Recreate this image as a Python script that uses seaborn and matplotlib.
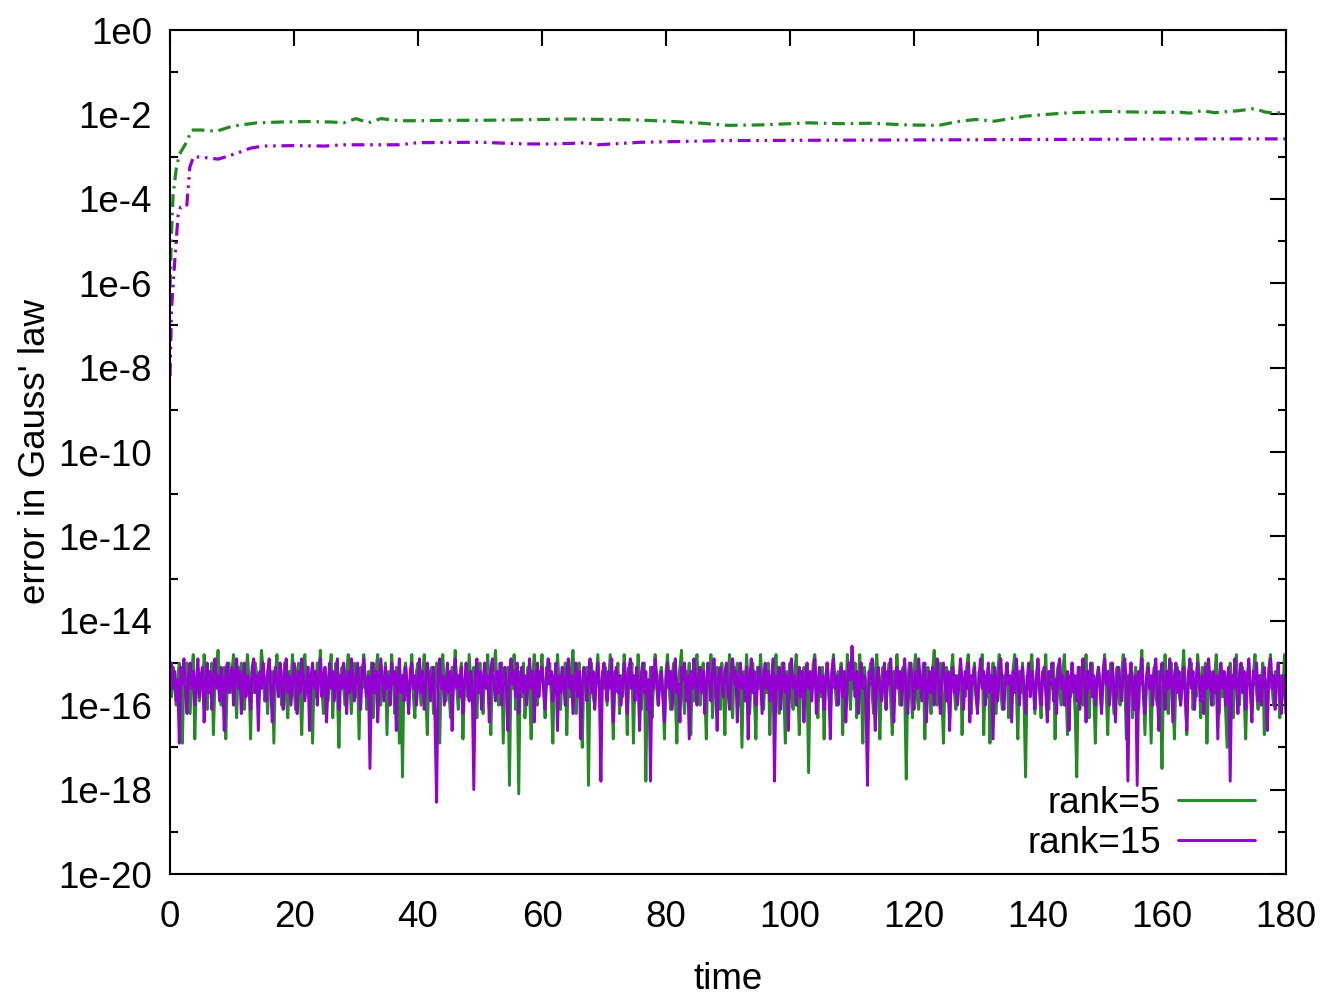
import numpy as np
import pandas as pd
import matplotlib
matplotlib.use("Agg")
import matplotlib.pyplot as plt
import matplotlib.ticker as mticker
import seaborn as sns

# ---------------- data ----------------
# noisy Gauss-law error (log10 values), sampled every 0.25 time units from t=0 to t=180
rank5_log = [
    -15.4, -15.8, -15.1, -15.5, -16.0, -15.3, -15.0, -15.6, -16.9, -15.2, -15.7, -15.0, -15.4, -16.2, -15.3, -14.8, -16.8, -15.5, -15.1, -15.9,
    -15.3, -15.6, -14.8, -15.4, -16.1, -15.2, -15.7, -15.0, -16.7, -15.5, -15.2, -14.7, -15.6, -16.0, -15.3, -15.1, -16.8, -15.4, -15.0, -15.7,
    -15.2, -14.8, -15.5, -16.3, -15.1, -15.6, -15.0, -15.8, -16.1, -15.3, -14.8, -15.4, -16.8, -15.2, -15.7, -15.0, -15.3, -16.0, -15.6, -14.7,
    -15.1, -15.9, -15.4, -16.2, -15.0, -15.5, -15.2, -16.9, -15.3, -14.8, -15.7, -15.1, -16.0, -15.4, -15.0, -15.8, -16.3, -15.2, -15.5, -14.8,
    -15.6, -16.1, -15.2, -15.0, -15.7, -16.7, -15.3, -14.8, -15.5, -15.1, -16.0, -15.4, -16.9, -15.2, -15.8, -15.0, -15.3, -14.7, -15.6, -16.2,
    -15.1, -15.5, -15.9, -15.2, -14.8, -16.3, -15.4, -15.0, -15.7, -17.0, -15.3, -15.1, -15.6, -16.0, -15.2, -14.8, -15.5, -16.2, -15.4, -15.0,
    -15.8, -15.3, -16.8, -15.1, -15.6, -14.8, -15.4, -16.1, -15.2, -15.7, -15.0, -16.3, -15.5, -15.1, -14.8, -15.8, -16.0, -15.3, -15.6, -15.0,
    -16.7, -15.2, -15.7, -14.8, -15.4, -16.2, -15.1, -15.5, -16.9, -15.3, -17.7, -15.2, -15.0, -15.6, -16.1, -15.4, -14.8, -15.8, -16.3, -15.2,
    -15.0, -15.5, -16.0, -15.3, -14.8, -15.7, -16.7, -15.2, -15.6, -15.1, -16.2, -15.4, -15.0, -15.8, -16.9, -15.3, -14.8, -15.5, -15.9, -15.2,
    -15.7, -16.3, -15.1, -15.4, -14.7, -15.6, -16.1, -15.3, -15.0, -16.8, -15.5, -15.2, -15.8, -14.8, -15.4, -16.0, -15.1, -15.6, -16.3, -15.3,
    -15.0, -15.7, -16.2, -15.2, -15.5, -14.8, -15.8, -16.7, -15.3, -15.1, -14.7, -15.6, -16.0, -15.4, -15.0, -16.9, -15.2, -15.7, -15.1, -17.9,
    -15.3, -15.6, -14.8, -16.1, -15.4, -18.1, -15.2, -15.8, -15.0, -16.3, -15.5, -15.1, -15.7, -16.8, -15.3, -14.8, -15.6, -16.0, -15.2, -15.4,
    -14.8, -15.6, -16.3, -15.1, -15.5, -15.0, -15.8, -16.9, -15.3, -15.7, -14.8, -15.4, -16.1, -15.2, -15.6, -15.0, -16.7, -15.3, -15.8, -15.1,
    -14.7, -15.5, -16.2, -15.4, -15.0, -15.7, -17.0, -15.2, -15.6, -15.1, -17.9, -15.3, -15.0, -15.8, -16.0, -15.4, -14.8, -15.5, -16.3, -15.2,
    -15.6, -15.1, -16.0, -15.4, -14.8, -15.7, -16.8, -15.2, -15.5, -15.0, -16.2, -15.3, -15.8, -14.8, -15.4, -16.7, -15.1, -15.6, -15.0, -16.9,
    -15.3, -15.7, -14.8, -15.5, -16.1, -15.2, -15.0, -17.8, -15.4, -15.8, -15.1, -16.3, -15.5, -14.8, -15.6, -16.0, -15.3, -15.1, -15.7, -16.8,
    -15.2, -14.8, -15.6, -16.1, -15.3, -15.0, -15.8, -16.9, -15.4, -15.1, -14.7, -15.7, -16.2, -15.2, -15.5, -15.0, -16.7, -15.3, -15.9, -15.1,
    -14.8, -15.6, -16.0, -15.4, -15.0, -15.7, -16.8, -15.2, -15.5, -14.8, -16.3, -15.3, -15.8, -15.1, -15.4, -16.1, -15.0, -15.6, -16.7, -15.2,
    -15.5, -14.8, -15.8, -16.3, -15.1, -15.6, -15.0, -16.0, -15.4, -17.0, -15.2, -15.7, -14.8, -15.5, -16.2, -15.3, -15.0, -15.8, -16.8, -15.1,
    -15.6, -14.8, -15.4, -16.1, -15.2, -15.7, -15.0, -16.7, -15.3, -15.9, -15.1, -14.8, -15.6, -16.2, -15.4, -15.0, -15.7, -16.9, -15.2, -15.5,
    -15.0, -15.8, -16.1, -15.3, -14.8, -15.6, -16.7, -15.2, -15.5, -15.1, -16.0, -15.4, -17.6, -15.3, -15.7, -15.0, -14.8, -15.6, -16.3, -15.2,
    -15.8, -15.1, -16.8, -15.4, -15.0, -15.7, -16.2, -15.3, -14.8, -15.5, -16.0, -15.2, -15.6, -15.0, -16.7, -15.3, -15.8, -14.8, -15.4, -16.1,
    -15.2, -15.6, -15.0, -16.3, -15.4, -14.8, -15.7, -16.9, -15.1, -15.5, -16.0, -15.3, -15.0, -15.8, -16.2, -15.2, -14.8, -15.6, -16.8, -15.4,
    -15.1, -15.7, -16.1, -15.3, -15.0, -15.9, -16.7, -15.2, -15.6, -14.8, -15.5, -16.0, -15.3, -15.1, -15.7, -17.75, -15.4, -15.0, -15.6, -16.3,
    -15.2, -14.8, -15.8, -16.1, -15.3, -15.6, -15.0, -16.8, -15.4, -15.1, -15.7, -16.2, -15.2, -14.7, -15.5, -16.0, -15.3, -15.0, -15.8, -16.9,
    -15.4, -15.1, -15.6, -16.3, -15.2, -14.8, -15.7, -16.1, -15.3, -15.5, -15.0, -16.7, -15.4, -15.8, -15.1, -14.8, -15.6, -16.2, -15.3, -15.0,
    -15.7, -16.0, -15.2, -15.5, -14.8, -16.7, -15.3, -15.8, -15.1, -16.9, -15.4, -15.0, -15.6, -16.2, -15.2, -14.8, -15.7, -16.1, -15.3, -15.5,
    -15.0, -16.3, -15.4, -15.8, -15.1, -14.8, -15.6, -16.8, -15.2, -15.7, -15.0, -16.0, -17.7, -15.3, -15.6, -15.1, -14.8, -15.5, -16.2, -15.4,
    -15.0, -15.7, -16.3, -15.2, -15.5, -14.8, -15.8, -16.1, -15.3, -15.6, -15.0, -16.8, -15.4, -15.1, -15.7, -16.0, -15.2, -14.8, -15.6, -16.7,
    -15.3, -15.8, -15.0, -15.5, -16.2, -17.7, -15.4, -15.1, -15.7, -16.0, -15.2, -14.8, -15.6, -16.3, -15.3, -15.0, -15.8, -16.9, -15.4, -15.1,
    -15.5, -16.1, -15.2, -14.8, -15.7, -16.7, -15.3, -15.0, -15.6, -16.2, -15.4, -15.1, -15.8, -16.0, -15.2, -14.8, -15.5, -16.8, -15.3, -15.7,
    -15.0, -16.3, -15.4, -15.1, -15.6, -16.1, -15.2, -14.7, -15.7, -16.7, -15.3, -15.0, -15.5, -16.9, -15.4, -15.1, -15.8, -16.0, -15.2, -15.6,
    -17.5, -15.3, -14.8, -15.6, -16.2, -15.2, -15.0, -15.8, -16.8, -15.4, -15.1, -15.7, -16.0, -15.3, -14.7, -15.6, -16.7, -15.2, -15.5, -15.0,
    -16.1, -15.4, -15.8, -14.8, -15.3, -16.3, -15.1, -15.6, -15.0, -16.9, -15.4, -15.2, -15.7, -16.0, -15.3, -14.8, -15.5, -16.2, -15.1, -15.8,
    -15.2, -16.1, -17.0, -15.4, -15.0, -15.7, -16.3, -15.2, -14.8, -15.6, -16.0, -15.3, -15.1, -15.8, -16.8, -15.4, -15.0, -15.6, -16.2, -15.2,
    -14.8, -15.7, -16.1, -15.3, -15.5, -15.0, -16.7, -15.4, -15.8, -15.1, -14.8, -15.6, -16.0, -15.2, -15.5, -15.0, -16.3, -15.3, -15.7, -14.8,
    -15.6,
]

rank15_log = [
    -15.3, -15.0, -15.6, -15.2, -15.9, -15.4, -16.9, -15.1, -15.5, -14.9, -15.7, -16.2, -15.3, -15.0, -15.6, -15.2, -16.0, -15.4, -14.9, -15.8,
    -15.3, -15.1, -16.4, -15.5, -15.0, -15.7, -15.2, -16.1, -15.4, -14.9, -15.6, -15.3, -15.9, -15.1, -15.5, -16.6, -15.2, -15.0, -15.7, -15.4,
    -15.1, -16.0, -15.3, -14.9, -15.6, -15.2, -16.2, -15.4, -15.0, -15.8, -15.3, -15.5, -16.1, -15.1, -14.9, -15.7, -15.3, -16.6, -15.2, -15.6,
    -15.0, -15.4, -15.9, -15.2, -14.9, -15.6, -16.4, -15.3, -15.1, -15.5, -15.8, -15.0, -15.4, -16.1, -15.2, -14.9, -15.7, -15.3, -16.0, -15.5,
    -15.0, -15.4, -16.2, -15.2, -15.7, -14.9, -15.3, -15.9, -15.5, -15.1, -16.6, -15.3, -15.0, -15.6, -15.2, -16.0, -15.4, -14.9, -15.8, -15.3,
    -15.1, -16.4, -15.5, -15.0, -15.6, -15.2, -15.9, -15.4, -14.9, -16.1, -15.3, -15.6, -15.0, -15.4, -16.2, -15.2, -15.7, -14.9, -15.5, -15.9,
    -15.3, -15.0, -15.6, -16.1, -15.2, -14.9, -15.5, -15.8, -15.3, -17.5, -15.4, -15.0, -15.7, -15.2, -16.4, -15.5, -14.9, -15.4, -15.9, -15.1,
    -15.6, -15.3, -16.0, -15.0, -15.5, -15.2, -16.6, -15.4, -14.9, -15.7, -15.3, -15.9, -15.1, -15.5, -16.2, -15.2, -15.0, -15.6, -15.3, -16.0,
    -15.4, -14.9, -15.7, -15.2, -16.1, -15.5, -15.0, -15.3, -15.9, -15.4, -15.1, -16.4, -18.3, -15.2, -14.9, -15.6, -15.3, -16.0, -15.5, -15.0,
    -15.7, -15.2, -16.6, -15.4, -14.9, -15.6, -15.3, -15.8, -15.1, -16.2, -15.5, -15.0, -15.4, -15.9, -15.2, -15.6, -18.0, -15.3, -14.9, -15.7,
    -15.2, -16.1, -15.4, -15.0, -15.6, -15.3, -16.4, -15.1, -14.9, -15.5, -15.9, -15.2, -15.7, -15.0, -16.0, -15.4, -15.1, -15.6, -16.6, -15.3,
    -14.9, -15.5, -15.2, -15.8, -15.0, -16.2, -15.4, -15.1, -15.7, -15.3, -16.0, -15.5, -14.9, -15.6, -15.2, -16.4, -15.4, -15.0, -15.8, -15.3,
    -15.1, -15.6, -16.1, -15.3, -14.9, -15.5, -15.2, -15.9, -15.4, -15.0, -16.6, -15.3, -15.7, -15.1, -15.5, -16.0, -15.2, -14.9, -15.6, -15.3,
    -16.2, -15.4, -15.0, -15.8, -15.2, -16.8, -15.5, -15.1, -15.4, -15.9, -15.3, -14.9, -15.7, -15.2, -16.1, -15.4, -15.0, -15.6, -17.8, -15.3,
    -15.0, -15.5, -15.9, -15.2, -15.6, -14.9, -16.4, -15.4, -15.1, -15.7, -15.3, -16.0, -15.5, -15.0, -15.4, -16.2, -15.2, -14.9, -15.6, -15.3,
    -15.9, -15.1, -15.5, -16.6, -15.3, -15.0, -15.7, -15.2, -16.1, -15.4, -17.8, -15.1, -15.6, -14.9, -15.3, -16.0, -15.5, -15.2, -15.8, -16.4,
    -15.4, -15.0, -15.6, -15.2, -16.1, -15.3, -14.9, -15.7, -15.5, -16.4, -15.1, -15.4, -15.0, -15.9, -15.3, -16.8, -15.2, -15.6, -14.9, -15.4,
    -16.0, -15.3, -15.1, -15.7, -15.2, -16.2, -15.5, -15.0, -15.4, -15.9, -15.2, -14.9, -15.6, -16.6, -15.3, -15.1, -15.5, -15.8, -15.2, -15.0,
    -15.7, -16.1, -15.3, -14.9, -15.5, -15.2, -16.4, -15.4, -15.0, -15.6, -15.3, -15.9, -15.1, -16.8, -15.4, -14.9, -15.7, -15.2, -16.0, -15.5,
    -15.1, -15.4, -16.2, -15.3, -15.0, -15.6, -15.2, -15.9, -15.4, -14.9, -17.8, -15.3, -15.6, -15.1, -16.1, -15.4, -15.0, -15.7, -15.3, -16.6,
    -15.2, -14.9, -15.6, -15.3, -16.0, -15.5, -15.1, -15.8, -15.2, -16.4, -15.4, -15.0, -15.6, -15.2, -15.9, -15.3, -14.9, -16.2, -15.5, -15.1,
    -15.7, -15.3, -16.1, -15.4, -15.0, -15.5, -16.8, -15.2, -14.9, -15.6, -15.3, -16.0, -15.4, -15.1, -15.8, -15.2, -16.4, -15.5, -15.0, -15.4,
    -14.6, -15.3, -15.8, -15.2, -16.2, -15.4, -15.0, -15.6, -15.3, -16.0, -17.9, -15.2, -15.5, -14.9, -15.7, -16.6, -15.3, -15.1, -15.6, -15.9,
    -15.4, -15.0, -16.1, -15.2, -15.5, -14.9, -15.8, -16.4, -15.3, -15.1, -15.6, -15.2, -16.0, -15.4, -14.9, -15.7, -16.2, -15.3, -15.0, -15.5,
    -16.1, -15.2, -15.6, -14.9, -15.4, -15.9, -15.3, -15.0, -16.4, -15.5, -15.2, -15.7, -15.1, -16.0, -15.4, -14.9, -15.6, -16.2, -15.3, -15.0,
    -15.5, -15.9, -15.2, -16.6, -15.4, -15.1, -15.7, -15.3, -16.0, -15.5, -14.9, -15.4, -16.1, -15.2, -15.6, -15.0, -16.4, -15.3, -15.5, -15.1,
    -15.8, -16.2, -15.3, -14.9, -15.6, -15.2, -16.0, -15.4, -15.0, -15.7, -15.3, -16.8, -15.1, -15.5, -15.9, -15.2, -14.9, -15.6, -16.1, -15.4,
    -15.0, -15.5, -15.3, -16.4, -15.2, -15.7, -14.9, -15.4, -16.0, -15.3, -15.1, -15.6, -16.2, -15.4, -15.0, -15.8, -15.2, -15.5, -16.1, -15.3,
    -14.9, -15.6, -16.0, -15.3, -15.1, -15.7, -16.4, -15.2, -15.5, -15.0, -15.9, -15.4, -16.2, -15.1, -14.9, -15.6, -15.3, -16.0, -15.5, -15.2,
    -16.6, -15.4, -15.0, -15.7, -15.3, -15.9, -15.1, -16.1, -15.5, -14.9, -15.4, -16.4, -15.2, -15.6, -15.0, -15.8, -15.3, -16.0, -15.4, -15.1,
    -15.6, -16.2, -15.3, -14.9, -15.5, -15.2, -16.0, -15.4, -15.0, -15.7, -16.4, -15.3, -15.1, -15.6, -15.9, -15.2, -14.9, -15.5, -17.8, -15.4,
    -15.0, -15.6, -16.1, -15.3, -17.9, -15.2, -15.5, -14.9, -15.8, -16.2, -15.4, -15.1, -15.6, -15.3, -16.0, -15.2, -14.9, -15.7, -16.6, -15.3,
    -15.0, -15.5, -16.1, -15.2, -15.6, -14.9, -15.4, -16.4, -15.3, -15.0, -15.7, -15.2, -16.0, -15.5, -15.1, -15.8, -16.6, -15.3, -14.9, -15.6,
    -15.2, -16.1, -15.4, -15.0, -15.5, -15.9, -15.3, -16.2, -15.1, -15.6, -14.9, -15.4, -16.0, -15.2, -15.7, -15.3, -16.8, -15.4, -15.0, -15.6,
    -15.2, -16.0, -15.4, -15.1, -17.8, -15.3, -15.6, -14.9, -15.5, -16.2, -15.3, -15.0, -15.7, -15.2, -16.1, -15.4, -14.9, -15.6, -16.4, -15.2,
    -15.5, -15.0, -15.9, -15.3, -16.0, -15.4, -15.1, -15.7, -16.6, -15.2, -14.9, -15.6, -15.3, -16.1, -15.4, -15.0, -15.7, -16.2, -15.3, -15.5,
    -16.2,
]

# second (dash-dot) curves, log10 values
rank5_dd_time = [0, 0.25, 0.5, 1.0, 1.5, 2.5, 3.5, 5, 7.5, 10, 14, 18, 22, 26, 28, 30, 32, 34, 37, 40,
                 45, 50, 55, 60, 65, 70, 75, 80, 85, 90, 95, 100, 103, 108, 113, 119, 124, 127, 130, 133,
                 138, 144, 151, 158, 163, 164.5, 166.5, 168.5, 172.5, 175, 176.5, 178, 180]
rank5_dd_log = [-6.1, -4.8, -3.9, -3.3, -2.95, -2.7, -2.37, -2.37, -2.4, -2.28, -2.2, -2.18, -2.17, -2.18, -2.2, -2.1, -2.2, -2.1, -2.15, -2.15,
                -2.14, -2.14, -2.13, -2.12, -2.11, -2.12, -2.13, -2.16, -2.2, -2.26, -2.25, -2.22, -2.2, -2.22, -2.21, -2.25, -2.26, -2.17, -2.12, -2.16,
                -2.04, -1.97, -1.93, -1.95, -1.95, -1.97, -1.91, -1.96, -1.91, -1.86, -1.94, -1.97, -1.95]

rank15_dd_time = [0, 0.25, 0.8, 1.3, 1.7, 2.7, 3.2, 3.8, 5.4, 7.8, 10.8, 13, 15, 20, 25, 28, 37, 40, 50, 57,
                  62, 66, 67, 69, 76, 90, 110, 130, 150, 170, 180]
rank15_dd_log = [-8.2, -6.6, -5.4, -4.4, -4.2, -4.18, -3.25, -3.0, -3.02, -3.06, -2.92, -2.8, -2.75, -2.74, -2.75, -2.72, -2.72, -2.67, -2.66, -2.7,
                 -2.7, -2.68, -2.67, -2.72, -2.66, -2.62, -2.61, -2.6, -2.59, -2.58, -2.58]

series_labels = ["rank=5", "rank=15"]
x_ticks = [0, 20, 40, 60, 80, 100, 120, 140, 160, 180]
y_major_exp = [0, -2, -4, -6, -8, -10, -12, -14, -16, -18, -20]
y_minor_exp = [-1, -3, -5, -7, -9, -11, -13, -15, -17, -19]

GREEN = "#228B22"
PURPLE = "#9400D3"

# ---------------- plot ----------------
sns.set_style("white")
plt.rcParams["font.family"] = ["Liberation Sans", "DejaVu Sans"]
FS = 26.5
plt.rcParams.update({"font.size": FS, "text.color": "black", "axes.labelcolor": "black",
                     "xtick.color": "black", "ytick.color": "black"})

fig = plt.figure(figsize=(13.34, 10), dpi=100)
ax = fig.add_axes([170 / 1334, 1 - 874 / 1000, (1286 - 170) / 1334, (874 - 30) / 1000])

df5 = pd.DataFrame({"time": np.linspace(0, 180, len(rank5_log)), "err": np.power(10.0, rank5_log)})
df15 = pd.DataFrame({"time": np.linspace(0, 180, len(rank15_log)), "err": np.power(10.0, rank15_log)})
dd5 = pd.DataFrame({"time": rank5_dd_time, "err": np.power(10.0, rank5_dd_log)})
dd15 = pd.DataFrame({"time": rank15_dd_time, "err": np.power(10.0, rank15_dd_log)})

lw = 2.1
sns.lineplot(data=df5, x="time", y="err", ax=ax, color=GREEN, lw=lw,
             estimator=None, sort=False, label=series_labels[0])
sns.lineplot(data=df15, x="time", y="err", ax=ax, color=PURPLE, lw=lw,
             estimator=None, sort=False, label=series_labels[1])
sns.lineplot(data=dd5, x="time", y="err", ax=ax, color=GREEN, lw=2.3,
             estimator=None, sort=False, linestyle=(0, (4, 1.8, 0.8, 1.8)))
sns.lineplot(data=dd15, x="time", y="err", ax=ax, color=PURPLE, lw=2.3,
             estimator=None, sort=False, linestyle=(0, (4, 1.8, 0.8, 1.8, 0.8, 1.8)))

ax.set_yscale("log")
ax.set_xlim(0, 180)
ax.set_ylim(1e-20, 1e0)
ax.set_xticks(x_ticks)
ax.set_xticklabels([str(v) for v in x_ticks])
ax.yaxis.set_major_locator(mticker.FixedLocator([10.0 ** e for e in y_major_exp]))
ax.yaxis.set_major_formatter(mticker.FixedFormatter([f"1e{e}" for e in y_major_exp]))
ax.yaxis.set_minor_locator(mticker.FixedLocator([10.0 ** e for e in y_minor_exp]))
ax.yaxis.set_minor_formatter(mticker.NullFormatter())
ax.xaxis.set_minor_locator(mticker.NullLocator())

for sp in ax.spines.values():
    sp.set_visible(True)
    sp.set_linewidth(1.5)
    sp.set_color("black")

ax.tick_params(axis="both", which="major", direction="in", length=11.5, width=1.5,
               top=True, right=True, labelsize=FS, colors="black")
ax.tick_params(axis="y", which="minor", direction="in", length=6, width=1.5,
               left=True, right=True)
ax.tick_params(axis="y", which="major", pad=13)
ax.tick_params(axis="x", which="major", pad=19)

ax.set_xlabel("time", fontsize=FS, labelpad=19)
ax.set_ylabel("error in Gauss' law", fontsize=FS, labelpad=3.5)

handles, labels = ax.get_legend_handles_labels()
ax.legend(handles[:2], labels[:2], loc="lower right", frameon=False, markerfirst=False,
          fontsize=FS, handlelength=2.1, handletextpad=0.45, labelspacing=0.15,
          borderpad=0, borderaxespad=0, bbox_to_anchor=((1255 - 170) / 1116, 0.015))

fig.savefig("out.png", dpi=100)
